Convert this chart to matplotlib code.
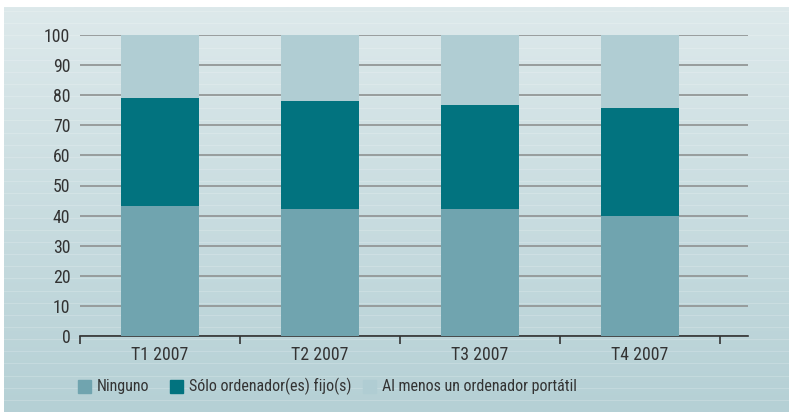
import numpy as np
import matplotlib.pyplot as plt
from matplotlib import font_manager

# quarterly shares (%) of households by type of computer
trimestres = ['T1 2007', 'T2 2007', 'T3 2007', 'T4 2007']
ninguno = [43.2, 42.2, 42.2, 39.9]
solo_fijo = [35.9, 35.9, 34.5, 35.8]
portatil = [20.9, 21.9, 23.3, 24.3]
series_labels = ['Ninguno', 'Sólo ordenador(es) fijo(s)', 'Al menos un ordenador portátil']
colores = ['#70a4af', '#02737f', '#b0cdd3']

names = {f.name for f in font_manager.fontManager.ttflist}
narrow = False
for cand in ['Liberation Sans Narrow', 'Roboto Condensed', 'Open Sans Condensed', 'DejaVu Sans Condensed']:
    if cand in names:
        fam = cand
        narrow = True
        break
else:
    fam = 'Liberation Sans'
plt.rcParams['font.family'] = [fam, 'DejaVu Sans']
txt = '#333333'
fs_tick = 12.8 if narrow else 11
fs_leg = 11.5 if narrow else 10

W, H = 789, 412
fig = plt.figure(figsize=(W / 100, H / 100), dpi=100)
fig.patch.set_facecolor('white')

# shaded backdrop panel with faint horizontal banding
bg = fig.add_axes([4 / W, 0, 1 - 4 / W, 1 - 7 / H])
grad = np.linspace(0, 1, 256)[:, None]
top = np.array([0xdd, 0xe9, 0xeb]) / 255
bot = np.array([0xb5, 0xd0, 0xd5]) / 255
img = top[None, None, :] * (1 - grad[..., None]) + bot[None, None, :] * grad[..., None]
bg.imshow(img, aspect='auto', extent=[0, 1, 0, 1], origin='upper')
for yy in np.arange(0.03, 1, 0.03):
    bg.axhline(yy, color='white', lw=0.8, alpha=0.18)
bg.set_xlim(0, 1)
bg.set_ylim(0, 1)
bg.axis('off')

# plotting area: x 80..748 px, y 35..336 px
ax = fig.add_axes([80 / W, 1 - 336 / H, (748 - 80) / W, (336 - 35) / H])
ax.patch.set_alpha(0)
x = np.arange(len(trimestres))
w = 0.49
bottom = np.zeros(len(x))
for vals, col in zip([ninguno, solo_fijo, portatil], colores):
    ax.bar(x, vals, w, bottom=bottom, color=col, zorder=3)
    bottom += np.array(vals)

ax.set_xlim(-0.5, 3.675)
ax.set_ylim(0, 100)
ax.set_yticks(range(0, 101, 10))
ax.yaxis.grid(True, color='#939797', lw=1.3, zorder=1)
ax.set_axisbelow(True)
for s in ['top', 'right', 'left']:
    ax.spines[s].set_visible(False)
ax.spines['bottom'].set_color('#333333')
ax.spines['bottom'].set_linewidth(1.2)
ax.tick_params(axis='y', length=0, labelsize=fs_tick, labelcolor=txt, pad=7)
ax.set_xticks(np.arange(-0.5, 3.6, 1.0))
ax.set_xticklabels([])
ax.tick_params(axis='x', which='major', length=6, width=1.2, color='#333333', direction='out')
ax.set_xticks(x, minor=True)
ax.set_xticklabels(trimestres, minor=True)
ax.tick_params(axis='x', which='minor', length=0, labelsize=fs_tick, labelcolor=txt, pad=7)

# legend row, laid out by hand in pixel positions
sq_x = [78, 170, 363]
for sx, lab, col in zip(sq_x, series_labels, colores):
    fig.patches.append(plt.Rectangle((sx / W, 1 - 393 / H), 13 / W, 13 / H,
                                     transform=fig.transFigure, color=col))
    fig.text((sx + 19) / W, 1 - 386 / H, lab, fontsize=fs_leg, color=txt,
             va='center', ha='left')

fig.savefig('out.png', dpi=100)
